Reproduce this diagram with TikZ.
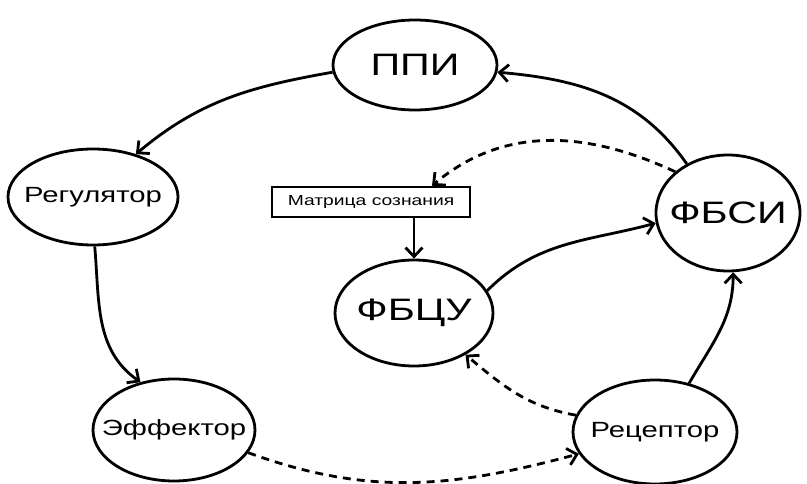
\documentclass[tikz,border=0pt]{standalone}
\usepackage{fontspec}
\setmainfont{Liberation Sans}
\usepackage{graphicx}
\usetikzlibrary{shapes.geometric,arrows.meta}
\tikzstyle{blockStyle} = [ellipse, draw, line width=2.8pt, inner sep=0pt, fill=white]
\tikzstyle{matrixStyle} = [rectangle, draw, line width=2.6pt, inner sep=0pt, minimum width=198pt, minimum height=30pt]
\tikzstyle{arrowStyle} = [line width=2.8pt, -{Straight Barb[length=9pt,width=17pt]}]
\tikzstyle{dashedArrowStyle} = [arrowStyle, dash pattern=on 8pt off 6pt]
\newcommand{\wideText}[2]{\makebox[0pt]{\scalebox{1.33}[1]{\fontsize{#1}{#1}\selectfont #2}}}

\begin{document}
\begin{tikzpicture}[x=1pt, y=1pt]
  \useasboundingbox (0,0) rectangle (807,483);
  \fill [white] (0,0) rectangle (807,483);

  \node [blockStyle, minimum width=164pt, minimum height=90pt] (ppi) at (415,418) {\wideText{31}{ППИ}};
  \node [blockStyle, minimum width=170pt, minimum height=96pt] (reg) at (93,286) {\wideText{22}{Регулятор}};
  \node [blockStyle, minimum width=162pt, minimum height=102pt] (eff) at (174,53) {\wideText{22}{Эффектор}};
  \node [blockStyle, minimum width=164pt, minimum height=104pt] (rec) at (655,51) {\wideText{22}{Рецептор}};
  \node [blockStyle, minimum width=144pt, minimum height=116pt] (fbsi) at (728,270) {\wideText{31}{ФБСИ}};
  \node [blockStyle, minimum width=158pt, minimum height=106pt] (fbcu) at (414,170) {\wideText{31}{ФБЦУ}};
  \node [matrixStyle] (box) at (371,281) {\wideText{14.5}{Матрица сознания}};

  \draw [arrowStyle] (ppi.185) to [out=190, in=40] (reg.45);
  \draw [arrowStyle] (fbsi.130) to [out=125, in=-5] (ppi.355);
  \draw [dashedArrowStyle] (fbsi.142) to [out=155, in=40] ([xshift=61pt]box.north);
  \draw [arrowStyle] (box.south -| fbcu.north) -- (fbcu.north);
  \draw [arrowStyle] (fbcu.17) to [out=45, in=195] (fbsi.188);
  \draw [arrowStyle] (reg.272) to [out=-85, in=145] (eff.125);
  \draw [dashedArrowStyle] (eff.343) to [out=-20, in=195] (rec.196);
  \draw [dashedArrowStyle] (rec.168) to [out=170, in=-40] (fbcu.321);
  \draw [arrowStyle] (rec.55) to [out=60, in=-90] (fbsi.275);
\end{tikzpicture}
\end{document}
